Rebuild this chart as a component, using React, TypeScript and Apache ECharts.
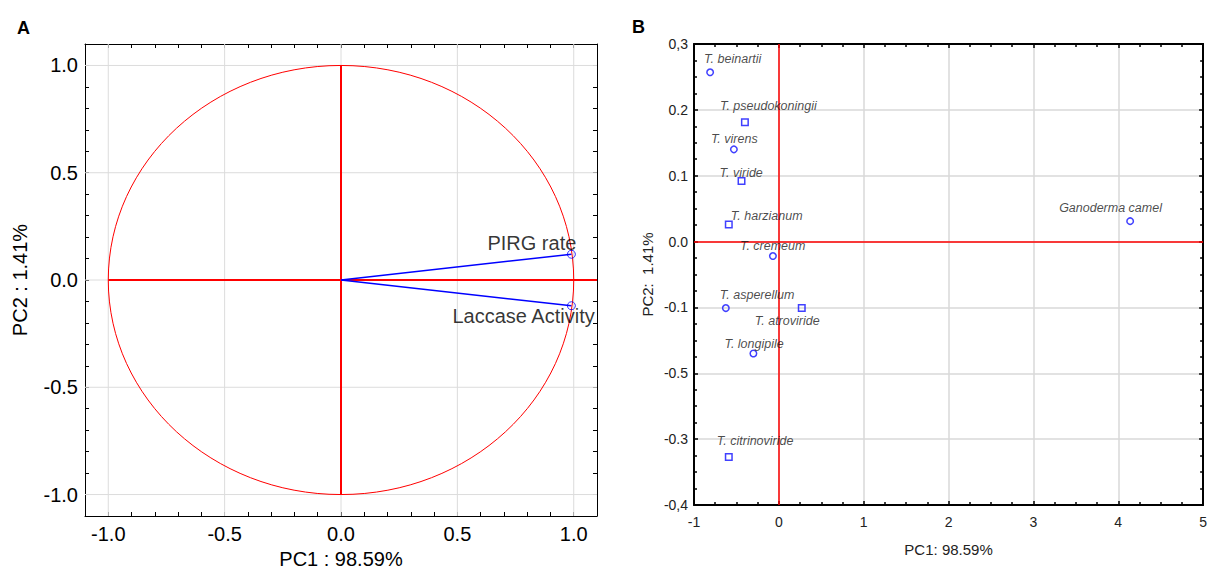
import React, { useEffect, useRef } from "react";
import * as echarts from "echarts";

// ---------- Panel A: correlation circle ----------
const loadingNames = ["PIRG rate", "Laccase Activity"];
const loadingPC1 = [0.99, 0.99];
const loadingPC2 = [0.12, -0.12];
const loadingLabelDx = [-84, -119];
const loadingLabelDy = [-11, 10];

const circleRadius = 1;
const tickLabelsA = ["-1.0", "-0.5", "0.0", "0.5", "1.0"];
const axisMinA = -1.1;
const axisMaxA = 1.1;

// ---------- Panel B: score plot ----------
const speciesNames = [
  "T. beinartii",
  "T. pseudokoningii",
  "T. virens",
  "T. viride",
  "T. harzianum",
  "T. cremeum",
  "T. asperellum",
  "T. atroviride",
  "T. longipile",
  "T. citrinoviride",
  "Ganoderma camel",
];
const speciesPC1 = [-0.81, -0.4, -0.53, -0.44, -0.59, -0.07, -0.625, 0.27, -0.3, -0.59, 4.14];
const speciesPC2 = [0.257, 0.181, 0.14, 0.092, 0.026, -0.022, -0.101, -0.101, -0.17, -0.327, 0.031];
const speciesMarker = ["circle", "rect", "circle", "rect", "rect", "circle", "circle", "rect", "circle", "rect", "circle"];
const speciesLabelDx = [-6, -25, -23, -22, 2, -33, -6, -47, -29, -12, -71];
const speciesLabelDy = [-13, -16, -10, -8, -8, -10, -13.5, 13, -10, -16, -13];

const xTickLabelsB = ["-1", "0", "1", "2", "3", "4", "5"];
const yTickValuesB = [-0.4, -0.3, -0.2, -0.1, 0, 0.1, 0.2, 0.3];
const yTickLabelsB = ["-0,4", "-0.3", "-0.5", "-0.1", "0.0", "0.1", "0.2", "0,3"];

const FONT = "'Liberation Sans', Arial, Helvetica, sans-serif";

const labelFromList = (labels: string[]) => (v: number) => {
  for (const l of labels) {
    if (Math.abs(parseFloat(l) - v) < 1e-6) return l;
  }
  return "";
};

const labelByValues = (values: number[], labels: string[]) => (v: number) => {
  for (let i = 0; i < values.length; i++) {
    if (Math.abs(values[i] - v) < 1e-6) return labels[i];
  }
  return "";
};

export default function App() {
  const ref = useRef<HTMLDivElement>(null);

  useEffect(() => {
    if (!ref.current) return;
    const chart = echarts.init(ref.current, null, { renderer: "svg" });

    const gridValuesA = tickLabelsA.map((t) => parseFloat(t));

    const axisA = (position: string, showLabel: boolean, isX: boolean): any => ({
      type: "value",
      gridIndex: 0,
      position,
      min: axisMinA,
      max: axisMaxA,
      interval: 0.1,
      axisLine: { show: true, onZero: false, lineStyle: { color: "#000", width: 1 } },
      axisTick: { show: true, inside: true, length: 4, lineStyle: { color: "#000", width: 1 } },
      splitLine: { show: false },
      axisLabel: {
        show: showLabel,
        fontSize: 20,
        fontFamily: FONT,
        color: "#000",
        margin: isX ? 8 : 7,
        formatter: labelFromList(tickLabelsA),
      },
    });

    const xB = (position: string, showLabel: boolean): any => ({
      type: "value",
      gridIndex: 1,
      position,
      min: -1,
      max: 5,
      interval: 1,
      axisLine: { show: true, onZero: false, lineStyle: { color: "#000", width: 2 } },
      axisTick: { show: true, inside: true, length: 4, lineStyle: { color: "#000", width: 1.5 } },
      minorTick: { show: true, splitNumber: 4, length: 3, lineStyle: { color: "#000", width: 1.5 } },
      splitLine: { show: showLabel, lineStyle: { color: "#d9d9d9", width: 1.5 } },
      axisLabel: {
        show: showLabel,
        fontSize: 14,
        fontFamily: FONT,
        color: "#222",
        margin: 10,
        formatter: labelFromList(xTickLabelsB),
      },
    });

    const yB = (position: string, showLabel: boolean): any => ({
      type: "value",
      gridIndex: 1,
      position,
      min: -0.4,
      max: 0.3,
      interval: 0.1,
      axisLine: { show: true, onZero: false, lineStyle: { color: "#000", width: 2 } },
      axisTick: { show: true, inside: true, length: 4, lineStyle: { color: "#000", width: 1.5 } },
      minorTick: { show: true, splitNumber: 4, length: 3, lineStyle: { color: "#000", width: 1.5 } },
      splitLine: { show: showLabel, lineStyle: { color: "#d9d9d9", width: 1.5 } },
      axisLabel: {
        show: showLabel,
        fontSize: 14,
        fontFamily: FONT,
        color: "#222",
        margin: 6,
        formatter: labelByValues(yTickValuesB, yTickLabelsB),
      },
    });

    const gridLineSeries = (vertical: boolean): any => ({
      type: "custom",
      xAxisIndex: 0,
      yAxisIndex: 0,
      z: 1,
      silent: true,
      data: gridValuesA.map((v) => [v, v]),
      renderItem: (params: any, api: any) => {
        const cs = params.coordSys;
        const p = api.coord([api.value(0), api.value(1)]);
        const shape = vertical
          ? { x1: p[0], y1: cs.y, x2: p[0], y2: cs.y + cs.height }
          : { x1: cs.x, y1: p[1], x2: cs.x + cs.width, y2: p[1] };
        return {
          type: "line",
          shape,
          style: { stroke: "#dcdcdc", lineWidth: 1 },
        };
      },
    });

    const option: any = {
      animation: false,
      backgroundColor: "#fff",
      title: [
        { text: "A", left: 12, top: 14, textStyle: { fontSize: 18, fontWeight: "bold", fontFamily: FONT, color: "#000" } },
        { text: "B", left: 627, top: 13, textStyle: { fontSize: 18, fontWeight: "bold", fontFamily: FONT, color: "#000" } },
      ],
      grid: [
        { left: 85, top: 44, width: 512, height: 472 },
        { left: 694, top: 44, width: 512, height: 461 },
      ],
      xAxis: [
        {
          ...axisA("bottom", true, true),
          name: "PC1 : 98.59%",
          nameLocation: "middle",
          nameGap: 32,
          nameTextStyle: { fontSize: 20, fontFamily: FONT, color: "#000" },
        },
        axisA("top", false, true),
        {
          ...xB("bottom", true),
          name: "PC1: 98.59%",
          nameLocation: "middle",
          nameGap: 37,
          nameTextStyle: { fontSize: 15, fontFamily: FONT, color: "#222" },
        },
        xB("top", false),
      ],
      yAxis: [
        {
          ...axisA("left", true, false),
          name: "PC2 : 1.41%",
          nameLocation: "middle",
          nameGap: 55,
          nameTextStyle: { fontSize: 20, fontFamily: FONT, color: "#000" },
        },
        axisA("right", false, false),
        {
          ...yB("left", true),
          name: "PC2:  1.41%",
          nameLocation: "middle",
          nameGap: 39,
          nameTextStyle: { fontSize: 15, fontFamily: FONT, color: "#222" },
        },
        yB("right", false),
      ],
      series: [
        gridLineSeries(true),
        gridLineSeries(false),
        // unit circle
        {
          type: "custom",
          xAxisIndex: 0,
          yAxisIndex: 0,
          z: 3,
          silent: true,
          data: [[0, 0, circleRadius]],
          renderItem: (params: any, api: any) => {
            const x0 = api.value(0);
            const y0 = api.value(1);
            const r = api.value(2);
            const c = api.coord([x0, y0]);
            const ex = api.coord([x0 + r, y0]);
            const ey = api.coord([x0, y0 + r]);
            return {
              type: "ellipse",
              shape: { cx: c[0], cy: c[1], rx: ex[0] - c[0], ry: c[1] - ey[1] },
              style: { fill: "none", stroke: "#ff0000", lineWidth: 1 },
            };
          },
        },
        // vertical red axis
        {
          type: "line",
          xAxisIndex: 0,
          yAxisIndex: 0,
          z: 3,
          silent: true,
          symbol: "none",
          data: [
            [0, -circleRadius],
            [0, circleRadius],
          ],
          lineStyle: { color: "#ff0000", width: 2 },
        },
        // horizontal red axis
        {
          type: "line",
          xAxisIndex: 0,
          yAxisIndex: 0,
          z: 3,
          silent: true,
          symbol: "none",
          data: [
            [-circleRadius, 0],
            [axisMaxA, 0],
          ],
          lineStyle: { color: "#ff0000", width: 2 },
        },
        // loading vectors
        ...loadingNames.map((n, i) => ({
          type: "line",
          xAxisIndex: 0,
          yAxisIndex: 0,
          z: 4,
          silent: true,
          symbol: "none",
          data: [
            [0, 0],
            [loadingPC1[i], loadingPC2[i]],
          ],
          lineStyle: { color: "#0000ff", width: 1.5 },
        })),
        // loading end points
        {
          type: "scatter",
          xAxisIndex: 0,
          yAxisIndex: 0,
          z: 5,
          symbol: "circle",
          symbolSize: 8,
          itemStyle: { color: "rgba(0,0,0,0)", borderColor: "#0000ff", borderWidth: 1 },
          label: {
            show: true,
            position: "inside",
            align: "left",
            verticalAlign: "middle",
            fontSize: 20,
            fontFamily: FONT,
            color: "#000",
            formatter: (p: any) => p.name,
          },
          data: loadingNames.map((n, i) => ({
            name: n,
            value: [loadingPC1[i], loadingPC2[i]],
            label: { offset: [loadingLabelDx[i], loadingLabelDy[i]] },
          })),
        },
        // Panel B red zero lines
        {
          type: "line",
          xAxisIndex: 2,
          yAxisIndex: 2,
          data: [[0, 0]],
          showSymbol: false,
          lineStyle: { opacity: 0 },
          silent: true,
          z: 2,
          markLine: {
            silent: true,
            symbol: ["none", "none"],
            label: { show: false },
            lineStyle: { color: "#ff0000", width: 1.5, type: "solid" },
            data: [{ xAxis: 0 }, { yAxis: 0 }],
          },
        },
        // Panel B species
        {
          type: "scatter",
          xAxisIndex: 2,
          yAxisIndex: 2,
          z: 5,
          symbolSize: 6.5,
          itemStyle: { color: "rgba(0,0,0,0)", borderColor: "#1010ff", borderWidth: 1.5 },
          label: {
            show: true,
            position: "inside",
            align: "left",
            verticalAlign: "middle",
            fontSize: 12.5,
            fontStyle: "italic",
            fontFamily: FONT,
            color: "#1a1a1a",
            formatter: (p: any) => p.name,
          },
          data: speciesNames.map((n, i) => ({
            name: n,
            value: [speciesPC1[i], speciesPC2[i]],
            symbol: speciesMarker[i],
            label: { offset: [speciesLabelDx[i], speciesLabelDy[i]] },
          })),
        },
      ],
    };

    chart.setOption(option);
    return () => {
      chart.dispose();
    };
  }, []);

  return (
    <div
      ref={ref}
      style={{ position: "absolute", left: 0, top: 0, width: 1210, height: 574, background: "#fff" }}
    />
  );
}
